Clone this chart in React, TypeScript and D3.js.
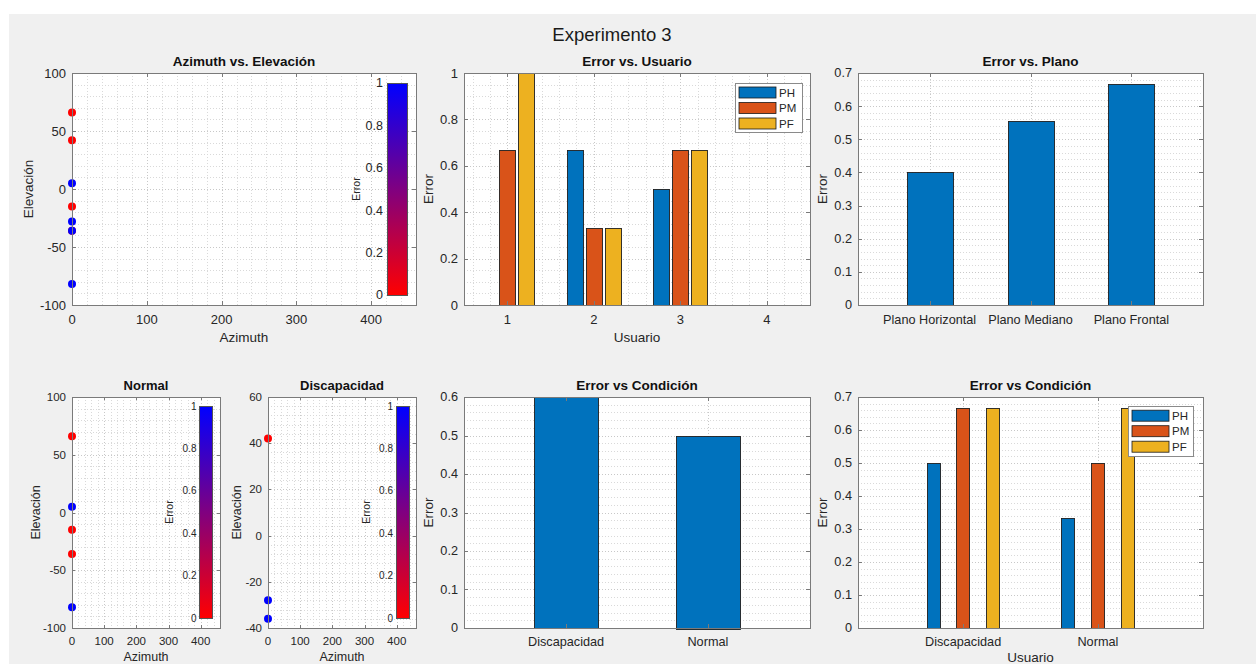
import React, { useEffect, useRef } from "react";
import * as d3 from "d3";

const W = 1256;
const H = 664;
const FONT = "'Liberation Sans', Arial, Helvetica, sans-serif";
const TEXT = "#262626";
const AXIS = "#7a7a7a";
const GRID_MINOR = "#d9d9d9";
const GRID_MAJOR = "#c8c8c8";

// Localization results per participant group (azimuth, elevation, error 0..1)
const normalAzimuth = [0, 0, 0, 0, 0];
const normalElevation = [66, 5, -15, -36, -82];
const normalError = [0, 1, 0, 0, 1];

const discAzimuth = [0, 0, 0];
const discElevation = [42, -28, -36];
const discError = [0, 1, 1];

// Error per user and plane
const users = [1, 2, 3, 4];
const seriesNames = ["PH", "PM", "PF"];
const userPH = [0, 0.667, 0.5, 0];
const userPM = [0.667, 0.333, 0.667, 0];
const userPF = [1, 0.333, 0.667, 0];

// Error per plane
const planos = ["Plano Horizontal", "Plano Mediano", "Plano Frontal"];
const planoError = [0.4, 0.556, 0.667];

// Error per condition
const condiciones = ["Discapacidad", "Normal"];
const condicionError = [0.6, 0.5];
const condPH = [0.5, 0.333];
const condPM = [0.667, 0.5];
const condPF = [0.667, 0.667];

const seriesColors = ["#0072BD", "#D95319", "#EDB120"];
const errorColor = d3.interpolateRgb("#ff0000", "#0000ff");

type Sel = d3.Selection<any, unknown, null, undefined>;
type Frame = { x: number; y: number; w: number; h: number };

interface AxOpts extends Frame {
  xDomain: [number, number];
  yDomain: [number, number];
  xTicks: number[];
  xTickText?: (v: number, i: number) => string;
  yTicks: number[];
  xMinor?: number[];
  yMinor?: number[];
  tickSize: number;
  tickFont: number;
  xTickDy: number;
  title: string;
  titleFont: number;
  xLabel?: string;
  xLabelY?: number;
  yLabel: string;
  yLabelX: number;
  labelFont: number;
}

const num = (v: number) => String(Math.round(v * 1000) / 1000);

function steps(a: number, b: number, s: number, skip?: number) {
  const out: number[] = [];
  const n = Math.round((b - a) / s);
  for (let i = 0; i <= n; i++) {
    const v = Math.round((a + i * s) * 1e6) / 1e6;
    if (skip && Math.abs(v / skip - Math.round(v / skip)) < 1e-6) continue;
    out.push(v);
  }
  return out;
}

function makeAxes(root: Sel, o: AxOpts) {
  const x = d3.scaleLinear().domain(o.xDomain).range([o.x, o.x + o.w]);
  const y = d3.scaleLinear().domain(o.yDomain).range([o.y + o.h, o.y]);
  const g = root.append("g");
  g.append("rect")
    .attr("x", o.x)
    .attr("y", o.y)
    .attr("width", o.w)
    .attr("height", o.h)
    .attr("fill", "#fff");

  const grid = g
    .append("g")
    .attr("fill", "none")
    .attr("stroke-width", 1)
    .attr("stroke-dasharray", "1,2");
  const vline = (v: number, c: string) => {
    const px = Math.round(x(v)) + 0.5;
    if (px <= o.x + 1 || px >= o.x + o.w) return;
    grid.append("line").attr("x1", px).attr("x2", px).attr("y1", o.y).attr("y2", o.y + o.h).attr("stroke", c);
  };
  const hline = (v: number, c: string) => {
    const py = Math.round(y(v)) + 0.5;
    if (py <= o.y + 1 || py >= o.y + o.h) return;
    grid.append("line").attr("x1", o.x).attr("x2", o.x + o.w).attr("y1", py).attr("y2", py).attr("stroke", c);
  };
  (o.xMinor || []).forEach((v) => vline(v, GRID_MINOR));
  (o.yMinor || []).forEach((v) => hline(v, GRID_MINOR));
  o.xTicks.forEach((v) => vline(v, GRID_MAJOR));
  o.yTicks.forEach((v) => hline(v, GRID_MAJOR));

  const marks = root.append("g");

  const decor = () => {
    const d = root.append("g");
    d.append("rect")
      .attr("x", o.x + 0.5)
      .attr("y", o.y + 0.5)
      .attr("width", o.w)
      .attr("height", o.h)
      .attr("fill", "none")
      .attr("stroke", AXIS)
      .attr("stroke-width", 1);
    const t = o.tickSize;
    o.xTicks.forEach((v) => {
      const px = Math.round(x(v)) + 0.5;
      d.append("line").attr("x1", px).attr("x2", px).attr("y1", o.y + o.h).attr("y2", o.y + o.h - t).attr("stroke", AXIS);
      d.append("line").attr("x1", px).attr("x2", px).attr("y1", o.y).attr("y2", o.y + t).attr("stroke", AXIS);
    });
    o.yTicks.forEach((v) => {
      const py = Math.round(y(v)) + 0.5;
      d.append("line").attr("x1", o.x).attr("x2", o.x + t).attr("y1", py).attr("y2", py).attr("stroke", AXIS);
      d.append("line").attr("x1", o.x + o.w).attr("x2", o.x + o.w - t).attr("y1", py).attr("y2", py).attr("stroke", AXIS);
    });
    const txt = d.append("g").attr("font-family", FONT).attr("fill", TEXT);
    o.xTicks.forEach((v, i) => {
      txt
        .append("text")
        .attr("x", x(v))
        .attr("y", o.y + o.h + o.xTickDy)
        .attr("text-anchor", "middle")
        .attr("font-size", o.tickFont)
        .text(o.xTickText ? o.xTickText(v, i) : num(v));
    });
    o.yTicks.forEach((v) => {
      txt
        .append("text")
        .attr("x", o.x - 6)
        .attr("y", y(v))
        .attr("dy", "0.35em")
        .attr("text-anchor", "end")
        .attr("font-size", o.tickFont)
        .text(num(v));
    });
    txt
      .append("text")
      .attr("x", o.x + o.w / 2)
      .attr("y", o.y - 7)
      .attr("text-anchor", "middle")
      .attr("font-size", o.titleFont)
      .attr("font-weight", "bold")
      .attr("fill", "#111")
      .text(o.title);
    if (o.xLabel) {
      txt
        .append("text")
        .attr("x", o.x + o.w / 2)
        .attr("y", o.xLabelY!)
        .attr("text-anchor", "middle")
        .attr("font-size", o.labelFont)
        .text(o.xLabel);
    }
    txt
      .append("text")
      .attr("transform", `translate(${o.yLabelX},${o.y + o.h / 2}) rotate(-90)`)
      .attr("dy", "0.35em")
      .attr("text-anchor", "middle")
      .attr("font-size", o.labelFont)
      .text(o.yLabel);
  };

  return { x, y, marks, decor };
}

function colorbar(root: Sel, id: string, f: Frame, labelRight: number, font: number, labelX: number, labelFont: number) {
  const defs = root.append("defs");
  const grad = defs
    .append("linearGradient")
    .attr("id", id)
    .attr("x1", 0)
    .attr("y1", 1)
    .attr("x2", 0)
    .attr("y2", 0);
  d3.range(0, 1.0001, 0.1).forEach((t) => {
    grad.append("stop").attr("offset", t).attr("stop-color", errorColor(t));
  });
  root
    .append("rect")
    .attr("x", f.x + 0.5)
    .attr("y", f.y + 0.5)
    .attr("width", f.w)
    .attr("height", f.h)
    .attr("fill", `url(#${id})`)
    .attr("stroke", "#555")
    .attr("stroke-width", 1);
  const s = d3.scaleLinear().domain([0, 1]).range([f.y + f.h, f.y]);
  const g = root.append("g").attr("font-family", FONT).attr("fill", TEXT);
  steps(0, 1, 0.2).forEach((v) => {
    g.append("text")
      .attr("x", labelRight)
      .attr("y", s(v))
      .attr("dy", "0.35em")
      .attr("text-anchor", "end")
      .attr("font-size", font)
      .text(num(v));
  });
  g.append("text")
    .attr("transform", `translate(${labelX},${f.y + f.h / 2}) rotate(-90)`)
    .attr("dy", "0.35em")
    .attr("text-anchor", "middle")
    .attr("font-size", labelFont)
    .text("Error");
}

function legend(root: Sel, f: Frame, rowTop: number, rowGap: number, font: number) {
  const g = root.append("g").attr("font-family", FONT);
  g.append("rect")
    .attr("x", f.x + 0.5)
    .attr("y", f.y + 0.5)
    .attr("width", f.w)
    .attr("height", f.h)
    .attr("fill", "#fff")
    .attr("stroke", "#8a8a8a");
  seriesNames.forEach((name, i) => {
    const cy = f.y + rowTop + i * rowGap;
    g.append("rect")
      .attr("x", f.x + 4)
      .attr("y", cy - 5.5)
      .attr("width", 37)
      .attr("height", 11)
      .attr("fill", seriesColors[i])
      .attr("stroke", "#1a1a1a")
      .attr("stroke-width", 0.8);
    g.append("text")
      .attr("x", f.x + 44)
      .attr("y", cy)
      .attr("dy", "0.35em")
      .attr("font-size", font)
      .attr("fill", TEXT)
      .text(name);
  });
}

function scatter(ax: ReturnType<typeof makeAxes>, az: number[], el: number[], err: number[]) {
  az.forEach((a, i) => {
    ax.marks
      .append("circle")
      .attr("cx", ax.x(a))
      .attr("cy", ax.y(el[i]))
      .attr("r", 4)
      .attr("fill", errorColor(err[i]));
  });
}

function bars(
  ax: ReturnType<typeof makeAxes>,
  cats: number[],
  values: number[],
  offset: number,
  width: number,
  color: string
) {
  cats.forEach((c, i) => {
    const v = values[i];
    if (v <= 0) return;
    const x0 = ax.x(c + offset - width / 2);
    const x1 = ax.x(c + offset + width / 2);
    const y0 = ax.y(v);
    const y1 = ax.y(0);
    ax.marks
      .append("rect")
      .attr("x", Math.round(x0) + 0.5)
      .attr("y", Math.round(y0) + 0.5)
      .attr("width", Math.round(x1 - x0))
      .attr("height", Math.round(y1 - y0))
      .attr("fill", color)
      .attr("stroke", "#1f1f1f")
      .attr("stroke-width", 0.9);
  });
}

function draw(svg: Sel) {
  svg
    .append("rect")
    .attr("x", 9)
    .attr("y", 14)
    .attr("width", W - 9)
    .attr("height", H - 14)
    .attr("fill", "#f0f0f0");

  svg
    .append("text")
    .attr("x", 612)
    .attr("y", 41)
    .attr("text-anchor", "middle")
    .attr("font-family", FONT)
    .attr("font-size", 18.5)
    .attr("fill", "#1a1a1a")
    .text("Experimento 3");

  const azTicks = steps(0, 400, 100);
  const azMinor = steps(0, 460, 20, 100);

  // Azimuth vs. Elevación (both groups)
  const a1 = makeAxes(svg, {
    x: 72, y: 73, w: 344, h: 232,
    xDomain: [0, 460], yDomain: [-100, 100],
    xTicks: azTicks, xMinor: azMinor,
    yTicks: steps(-100, 100, 50), yMinor: steps(-100, 100, 10, 50),
    tickSize: 4, tickFont: 13, xTickDy: 18.5,
    title: "Azimuth vs. Elevación", titleFont: 13.5,
    xLabel: "Azimuth", xLabelY: 342, yLabel: "Elevación", yLabelX: 28, labelFont: 13.5,
  });
  scatter(a1, normalAzimuth, normalElevation, normalError);
  scatter(a1, discAzimuth, discElevation, discError);
  a1.decor();
  colorbar(svg, "cb1", { x: 387, y: 83, w: 20, h: 212 }, 383, 12.5, 356, 10.5);

  // Error vs. Usuario
  const a2 = makeAxes(svg, {
    x: 464, y: 73, w: 346, h: 232,
    xDomain: [0.5, 4.5], yDomain: [0, 1],
    xTicks: users, xMinor: steps(0.6, 4.4, 0.2, 1),
    yTicks: steps(0, 1, 0.2), yMinor: steps(0, 1, 0.05, 0.2),
    tickSize: 4, tickFont: 13, xTickDy: 18.5,
    title: "Error vs. Usuario", titleFont: 13.5,
    xLabel: "Usuario", xLabelY: 342, yLabel: "Error", yLabelX: 428, labelFont: 13.5,
  });
  [userPH, userPM, userPF].forEach((vals, s) =>
    bars(a2, users, vals, (s - 1) * 0.222, 0.185, seriesColors[s])
  );
  a2.decor();
  legend(svg, { x: 735, y: 83, w: 67, h: 49 }, 9.5, 15.5, 11.5);

  // Error vs. Plano
  const planoIdx = planos.map((_, i) => i + 1);
  const a3 = makeAxes(svg, {
    x: 858, y: 73, w: 345, h: 232,
    xDomain: [0.29, 3.71], yDomain: [0, 0.7],
    xTicks: planoIdx, xTickText: (_, i) => planos[i],
    yTicks: steps(0, 0.7, 0.1), yMinor: steps(0, 0.7, 0.02, 0.1),
    tickSize: 4, tickFont: 12.7, xTickDy: 18.5,
    title: "Error vs. Plano", titleFont: 13.5,
    yLabel: "Error", yLabelX: 822, labelFont: 13.5,
  });
  bars(a3, planoIdx, planoError, 0, 0.456, seriesColors[0]);
  a3.decor();

  // Normal
  const a4 = makeAxes(svg, {
    x: 72, y: 397, w: 148, h: 231,
    xDomain: [0, 460], yDomain: [-100, 100],
    xTicks: azTicks, xMinor: azMinor,
    yTicks: steps(-100, 100, 50), yMinor: steps(-100, 100, 10, 50),
    tickSize: 3, tickFont: 11.5, xTickDy: 17,
    title: "Normal", titleFont: 13,
    xLabel: "Azimuth", xLabelY: 661, yLabel: "Elevación", yLabelX: 36, labelFont: 12.5,
  });
  scatter(a4, normalAzimuth, normalElevation, normalError);
  a4.decor();
  colorbar(svg, "cb4", { x: 199, y: 406, w: 13, h: 212 }, 196.5, 10, 169, 10.5);

  // Discapacidad
  const a5 = makeAxes(svg, {
    x: 268, y: 397, w: 148, h: 231,
    xDomain: [0, 460], yDomain: [-40, 60],
    xTicks: azTicks, xMinor: azMinor,
    yTicks: steps(-40, 60, 20), yMinor: steps(-40, 60, 4, 20),
    tickSize: 3, tickFont: 11.5, xTickDy: 17,
    title: "Discapacidad", titleFont: 13,
    xLabel: "Azimuth", xLabelY: 661, yLabel: "Elevación", yLabelX: 237, labelFont: 12.5,
  });
  scatter(a5, discAzimuth, discElevation, discError);
  a5.decor();
  colorbar(svg, "cb5", { x: 396, y: 406, w: 13, h: 212 }, 393, 10, 366, 10.5);

  // Error vs Condición (overall)
  const condIdx = condiciones.map((_, i) => i + 1);
  const a6 = makeAxes(svg, {
    x: 464, y: 397, w: 346, h: 231,
    xDomain: [0.28, 2.72], yDomain: [0, 0.6],
    xTicks: condIdx, xTickText: (_, i) => condiciones[i],
    yTicks: steps(0, 0.6, 0.1), yMinor: steps(0, 0.6, 0.02, 0.1),
    tickSize: 4, tickFont: 12.7, xTickDy: 18,
    title: "Error vs Condición", titleFont: 13.5,
    yLabel: "Error", yLabelX: 428, labelFont: 13.5,
  });
  bars(a6, condIdx, condicionError, 0, 0.452, seriesColors[0]);
  a6.decor();

  // Error vs Condición per plane
  const a7 = makeAxes(svg, {
    x: 858, y: 397, w: 345, h: 231,
    xDomain: [0.22, 2.78], yDomain: [0, 0.7],
    xTicks: condIdx, xTickText: (_, i) => condiciones[i],
    yTicks: steps(0, 0.7, 0.1), yMinor: steps(0, 0.7, 0.02, 0.1),
    tickSize: 4, tickFont: 12.7, xTickDy: 18,
    title: "Error vs Condición", titleFont: 13.5,
    xLabel: "Usuario", xLabelY: 662, yLabel: "Error", yLabelX: 822, labelFont: 13.5,
  });
  [condPH, condPM, condPF].forEach((vals, s) =>
    bars(a7, condIdx, vals, (s - 1) * 0.22, 0.1, seriesColors[s])
  );
  a7.decor();
  legend(svg, { x: 1128, y: 406, w: 65, h: 50 }, 9.7, 15.5, 11.5);
}

export default function App() {
  const ref = useRef<SVGSVGElement>(null);
  useEffect(() => {
    const svg = d3.select(ref.current) as unknown as Sel;
    svg.selectAll("*").remove();
    draw(svg);
  }, []);
  return (
    <svg
      ref={ref}
      width={W}
      height={H}
      style={{ position: "absolute", left: 0, top: 0, display: "block" }}
    />
  );
}
